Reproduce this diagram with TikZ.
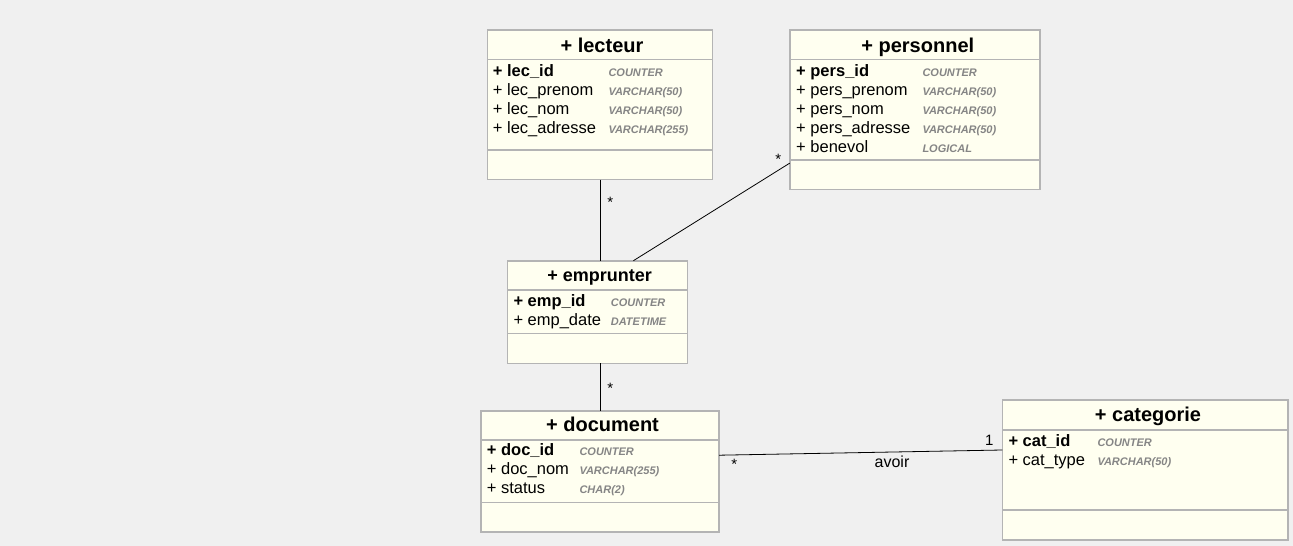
\documentclass[tikz,border=0pt]{standalone}
\usepackage{fontspec}
\setmainfont{Liberation Sans}
\definecolor{bg}{HTML}{F0F0F0}
\definecolor{boxfill}{HTML}{FFFFF0}
\definecolor{boxline}{HTML}{B4B4B4}
\definecolor{typegray}{HTML}{858585}
\tikzset{
  umlbox/.style={draw=boxline, fill=boxfill, line width=1.6pt, rectangle, inner sep=0pt, outer sep=0pt},
  sepline/.style={draw=boxline, line width=1.6pt},
  titletext/.style={font=\fontsize{20}{24}\selectfont\bfseries, anchor=base, inner sep=0pt},
  smalltitle/.style={font=\fontsize{18}{22}\selectfont\bfseries, anchor=base, inner sep=0pt},
  attr/.style={font=\fontsize{16.5}{19}\selectfont, anchor=base west, inner sep=0pt},
  pkattr/.style={font=\fontsize{16.5}{19}\selectfont\bfseries, anchor=base west, inner sep=0pt},
  dtype/.style={font=\fontsize{11}{13}\selectfont\bfseries\itshape, text=typegray, anchor=base west, inner sep=0pt},
  conn/.style={draw=black, line width=0.8pt},
  mult/.style={font=\fontsize{15}{17}\selectfont, anchor=base, inner sep=0pt},
  rolelabel/.style={font=\fontsize{16}{19}\selectfont, anchor=base, inner sep=0pt},
}
\begin{document}
\begin{tikzpicture}[x=1pt,y=-1pt]
\useasboundingbox (0,0) rectangle (1293,546);
\fill[bg] (0,0) rectangle (1293,546);

% ---------- boxes ----------
\node[umlbox, minimum width=225pt, minimum height=149.5pt] (lecteur) at (599.8,104.75) {};
\node[umlbox, minimum width=250.3pt, minimum height=159.3pt] (personnel) at (914.85,109.65) {};
\node[umlbox, minimum width=179.8pt, minimum height=102.6pt] (emprunter) at (597.4,312) {};
\node[umlbox, minimum width=238.3pt, minimum height=121pt] (document) at (599.85,471.2) {};
\node[umlbox, minimum width=285.4pt, minimum height=140pt] (categorie) at (1145,470) {};

% ---------- separators ----------
\draw[sepline] (lecteur.west |- 0,59.5) -- (lecteur.east |- 0,59.5);
\draw[sepline] (lecteur.west |- 0,150) -- (lecteur.east |- 0,150);
\draw[sepline] (personnel.west |- 0,59.5) -- (personnel.east |- 0,59.5);
\draw[sepline] (personnel.west |- 0,160) -- (personnel.east |- 0,160);
\draw[sepline] (emprunter.west |- 0,290) -- (emprunter.east |- 0,290);
\draw[sepline] (emprunter.west |- 0,333.3) -- (emprunter.east |- 0,333.3);
\draw[sepline] (document.west |- 0,440) -- (document.east |- 0,440);
\draw[sepline] (document.west |- 0,502.3) -- (document.east |- 0,502.3);
\draw[sepline] (categorie.west |- 0,430) -- (categorie.east |- 0,430);
\draw[sepline] (categorie.west |- 0,510) -- (categorie.east |- 0,510);

% ---------- lecteur ----------
\node[titletext] (lt) at (602,52) {+ lecteur};
\node[pkattr] (la1) at (492.7,76) {+ lec\_id};
\node[attr] (la2) at (492.7,95) {+ lec\_prenom};
\node[attr] (la3) at (492.7,114) {+ lec\_nom};
\node[attr] (la4) at (492.7,133) {+ lec\_adresse};
\node[dtype] (ly1) at (608.3,76) {COUNTER};
\node[dtype] (ly2) at (608.3,95) {VARCHAR(50)};
\node[dtype] (ly3) at (608.3,114) {VARCHAR(50)};
\node[dtype] (ly4) at (608.3,133) {VARCHAR(255)};

% ---------- personnel ----------
\node[titletext] (pt) at (917.8,52) {+ personnel};
\node[pkattr] (pa1) at (796,76) {+ pers\_id};
\node[attr] (pa2) at (796,95) {+ pers\_prenom};
\node[attr] (pa3) at (796,114) {+ pers\_nom};
\node[attr] (pa4) at (796,133) {+ pers\_adresse};
\node[attr] (pa5) at (796,152) {+ benevol};
\node[dtype] (py1) at (922.3,76) {COUNTER};
\node[dtype] (py2) at (922.3,95) {VARCHAR(50)};
\node[dtype] (py3) at (922.3,114) {VARCHAR(50)};
\node[dtype] (py4) at (922.3,133) {VARCHAR(50)};
\node[dtype] (py5) at (922.3,152) {LOGICAL};

% ---------- emprunter ----------
\node[smalltitle] (et) at (599.7,281.7) {+ emprunter};
\node[pkattr] (ea1) at (513.3,306.7) {+ emp\_id};
\node[attr] (ea2) at (513.3,325.7) {+ emp\_date};
\node[dtype] (ey1) at (610.7,306.7) {COUNTER};
\node[dtype] (ey2) at (610.7,325.7) {DATETIME};

% ---------- document ----------
\node[titletext] (dt) at (602.5,431.7) {+ document};
\node[pkattr] (da1) at (486.7,455.7) {+ doc\_id};
\node[attr] (da2) at (486.7,474.7) {+ doc\_nom};
\node[attr] (da3) at (486.7,493.7) {+ status};
\node[dtype] (dy1) at (579.3,455.7) {COUNTER};
\node[dtype] (dy2) at (579.3,474.7) {VARCHAR(255)};
\node[dtype] (dy3) at (579.3,493.7) {CHAR(2)};

% ---------- categorie ----------
\node[titletext] (ct) at (1148,421.7) {+ categorie};
\node[pkattr] (ca1) at (1008.3,446) {+ cat\_id};
\node[attr] (ca2) at (1008.3,465) {+ cat\_type};
\node[dtype] (cy1) at (1097.3,446) {COUNTER};
\node[dtype] (cy2) at (1097.3,465) {VARCHAR(50)};

% ---------- connectors ----------
\draw[conn] ([xshift=0.5pt]lecteur.south) -- ([xshift=0.5pt]lecteur.south |- emprunter.north);
\draw[conn] ([yshift=-53.5pt]personnel.west) -- ([xshift=36pt]emprunter.north);
\draw[conn] ([xshift=2.9pt]emprunter.south) -- ([xshift=2.9pt]emprunter.south |- document.north);
\draw[conn] ([yshift=16pt]document.east) -- ([yshift=20pt]categorie.west);

% ---------- multiplicities ----------
\node[mult] (m1) at (610.3,207) {*};
\node[mult] (m2) at (778.3,164.5) {*};
\node[mult] (m3) at (610.3,393.7) {*};
\node[mult] (m4) at (734.3,469.7) {*};
\node[mult] (m5) at (989.2,445.7) {1};
\node[rolelabel] (r1) at (892,467) {avoir};
\end{tikzpicture}
\end{document}
